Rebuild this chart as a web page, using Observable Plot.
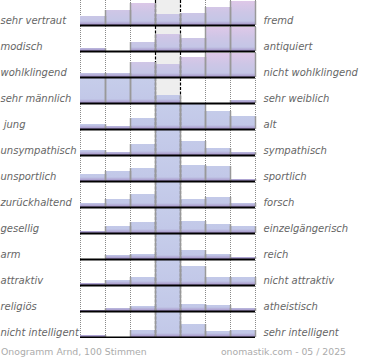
<!DOCTYPE html>
<html>
<head>
<meta charset="utf-8">
<script src="https://cdn.jsdelivr.net/npm/d3@7"></script>
<script src="https://cdn.jsdelivr.net/npm/@observablehq/plot@0.6"></script>
<style>
  body { margin: 0; background: #fff; font-family: "DejaVu Sans", sans-serif; }
  #chart svg { display: block; }
  .footer { display: flex; justify-content: space-between; width: 345px; padding-left: 1px;
            margin-top: 7px; line-height: 14px; font-size: 9.3px; color: #ababab; }
</style>
</head>
<body>
<div id="chart"></div>
<div class="footer"><span>Onogramm Arnd, 100 Stimmen</span><span>onomastik.com - 05 / 2025</span></div>
<script>
// Left-pole and right-pole labels (one row each)
const leftLabels = ["sehr vertraut", "modisch", "wohlklingend", "sehr männlich", "\u00a0jung",
  "unsympathisch", "unsportlich", "zurückhaltend", "gesellig", "arm", "attraktiv", "religiös", "nicht intelligent"];
const rightLabels = ["fremd", "antiquiert", "nicht wohlklingend", "sehr weiblich", "alt",
  "sympathisch", "sportlich", "forsch", "einzelgängerisch", "reich", "nicht attraktiv", "atheistisch", "sehr intelligent"];
// Bar heights for the 7 scale steps of each row (relative, 25 = full row)
const values = [
  [9, 15, 22, 11, 12, 18, 24],
  [3, 0, 9, 17, 13, 24, 24],
  [4, 4, 15, 13, 20, 24, 24],
  [25, 25, 25, 8, 0, 0, 3],
  [5, 3, 11, 25, 25, 18, 13],
  [5, 3, 11, 25, 14, 7, 3],
  [7, 10, 13, 25, 16, 15, 2],
  [4, 8, 13, 25, 8, 10, 4],
  [2, 7, 11, 25, 12, 9, 7],
  [0, 4, 5, 25, 9, 5, 2],
  [2, 5, 8, 25, 19, 8, 8],
  [1, 3, 5, 25, 7, 6, 3],
  [2, 0, 7, 25, 13, 6, 7]
];
const steps = [0, 1, 2, 3, 4, 5, 6];
const generalRows = ["sehr vertraut", "modisch", "wohlklingend"];

const rows = leftLabels.map((l, i) => ({row: l, left: l, right: rightLabels[i]}));
const bars = leftLabels.flatMap((l, r) => values[r].map((v, c) => ({row: l, x1: steps[c], x2: steps[c] + 1, v, general: generalRows.includes(l)})));

const plot = Plot.plot({
  width: 370,
  height: 338,
  marginLeft: 80,
  marginRight: 115,
  marginTop: 0,
  marginBottom: 0,
  style: {fontFamily: "DejaVu Sans, sans-serif", background: "#fff"},
  x: {domain: [0, 7], axis: null},
  y: {domain: [0, 25], range: [25, 0], axis: null},
  fy: {domain: leftLabels, padding: 0, axis: null},
  marks: [
    Plot.rect(rows, {fy: "row", x1: 3, x2: 4, fill: "#eeeeee"}),
    Plot.ruleX(rows.flatMap(d => [0, 1, 2, 5, 6, 7].map(x => ({row: d.row, x}))), {fy: "row", x: "x", stroke: "#8a8a8a", strokeDasharray: "1,1"}),
    Plot.rect(bars.filter(d => d.general), {fy: "row", x1: "x1", x2: "x2", y1: 0, y2: "v", fill: "url(#gradPink)"}),
    Plot.rect(bars.filter(d => !d.general), {fy: "row", x1: "x1", x2: "x2", y1: 0, y2: "v", fill: "url(#gradBlue)"}),
    Plot.ruleX(rows.flatMap(d => [3, 4].map(x => ({row: d.row, x}))), {fy: "row", x: "x", stroke: "#000", strokeWidth: 1.2, strokeDasharray: "3,1.5"}),
    Plot.ruleX(bars.filter(d => d.v > 0), {fy: "row", x: "x2", y1: 0, y2: "v", stroke: "#999", strokeWidth: 1.5}),
    Plot.ruleX(bars.filter(d => d.v > 0 && d.x1 > 0), {fy: "row", x: "x1", y1: 0, y2: "v", stroke: "#999", strokeWidth: 1.5}),
    Plot.ruleY(rows, {fy: "row", y: 0, stroke: "#000", strokeWidth: 2}),
    Plot.text(rows, {fy: "row", text: "left", frameAnchor: "left", textAnchor: "start", dx: -80, dy: 7,
      fill: "#666", fontStyle: "italic", fontSize: 10}),
    Plot.text(rows, {fy: "row", text: "right", frameAnchor: "right", textAnchor: "start", dx: 8, dy: 7,
      fill: "#666", fontStyle: "italic", fontSize: 10})
  ]
});

const svg = d3.select(plot);
const defs = svg.insert("defs", ":first-child");
function grad(id, stops) {
  const g = defs.append("linearGradient").attr("id", id).attr("gradientUnits", "userSpaceOnUse")
    .attr("x1", 0).attr("x2", 0).attr("y1", 0).attr("y2", 25);
  stops.forEach(([o, c]) => g.append("stop").attr("offset", o).attr("stop-color", c));
}
grad("gradPink", [[0, "#e0c8e8"], [0.45, "#cec6e6"], [0.84, "#c4c6e6"], [0.92, "#b3acd6"], [1, "#a28fc8"]]);
grad("gradBlue", [[0, "#c6cdea"], [0.84, "#c2c8e8"], [0.92, "#b3acd6"], [1, "#a28fc8"]]);
document.getElementById("chart").appendChild(plot);
</script>
</body>
</html>
